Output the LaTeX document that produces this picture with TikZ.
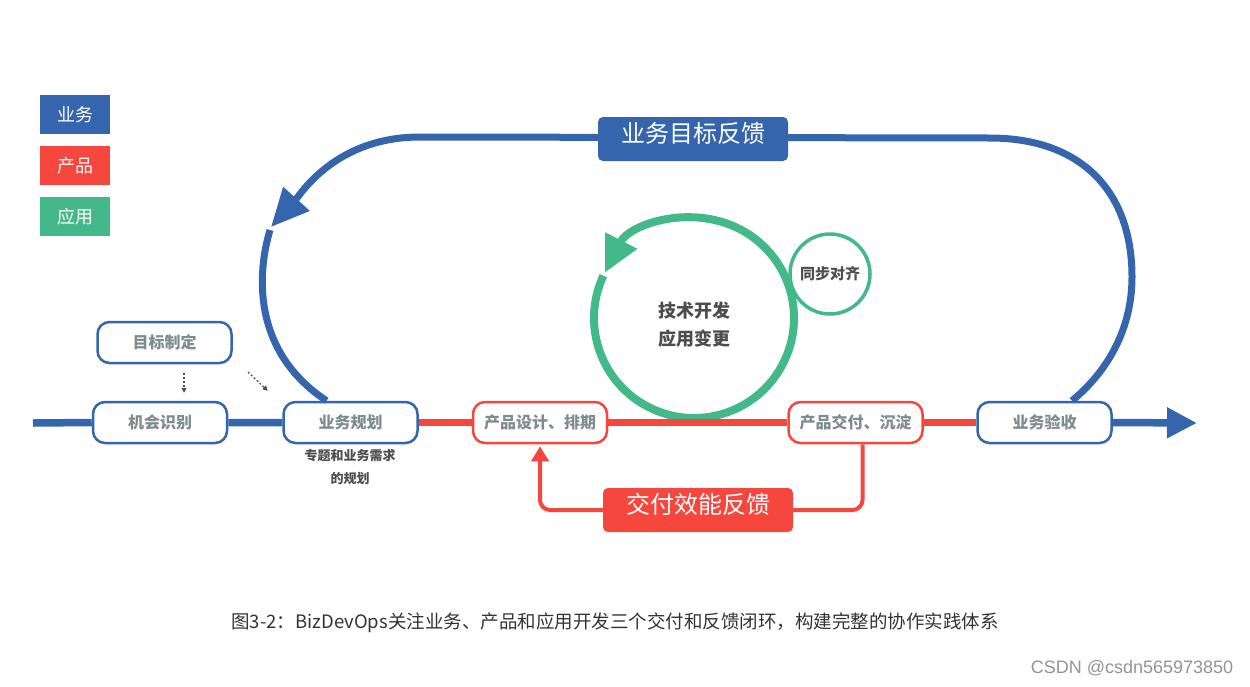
\documentclass[tikz,border=0pt]{standalone}
\usepackage{fontspec}
\setmainfont{Noto Sans CJK SC}
\newfontfamily\markfont{Liberation Sans}
\usepackage{tikz}
\usetikzlibrary{arrows.meta}
\definecolor{bizblue}{HTML}{3465AD}
\definecolor{prodred}{HTML}{F5473D}
\definecolor{appgreen}{HTML}{42B88B}
\definecolor{stagegray}{HTML}{7F8C8D}
\definecolor{darktext}{HTML}{4D4D4D}
\definecolor{captiongray}{HTML}{333333}

\begin{document}
\begin{tikzpicture}[
  x=1pt, y=1pt,
  line cap=butt,
  stagebox/.style={draw=#1, line width=2.5pt, fill=white, rounded corners=12pt,
    minimum width=134pt, minimum height=41pt, inner sep=0pt,
    font=\fontsize{16}{16}\selectfont\bfseries, text=stagegray},
  legendbox/.style={fill=#1, minimum width=70pt, minimum height=39pt, inner sep=0pt,
    font=\fontsize{18}{18}\selectfont, text=white},
  tagbox/.style={fill=#1, rounded corners=5pt, minimum width=190pt, minimum height=44pt,
    inner sep=0pt, text height=17pt, text depth=10pt,
    font=\fontsize{24}{24}\selectfont, text=white},
  mainline/.style={line width=7.5pt, draw=#1},
  loopline/.style={line width=7pt, draw=bizblue},
  fbline/.style={line width=4pt, draw=prodred, rounded corners=10pt},
  hint/.style={-{Triangle[length=5pt,width=5pt]}, line width=1.2pt, draw=darktext,
    dash pattern=on 2pt off 2pt},
  lbl/.style={text=darktext, align=center}
]
\useasboundingbox (0,0) rectangle (1250,-686);

%========== legend ==========
\node[legendbox=bizblue]  (legbiz)  at (75,-114.5) {业务};
\node[legendbox=prodred]  (legprod) at (75,-165.5) {产品};
\node[legendbox=appgreen] (legapp)  at (75,-216.5) {应用};

%========== stages on the main line ==========
\node[stagebox=bizblue] (goal)    at (164.5,-342.5) {目标制定};
\node[stagebox=bizblue] (chance)  at (160,-422.5)   {机会识别};
\node[stagebox=bizblue] (plan)    at (350.5,-422.5) {业务规划};
\node[stagebox=prodred] (design)  at (540,-422.5)   {产品设计、排期};
\node[stagebox=prodred] (deliver) at (855.5,-422.5) {产品交付、沉淀};
\node[stagebox=bizblue] (accept)  at (1044.5,-422.5) {业务验收};
\coordinate (start)  at (33,-423);
\coordinate (finish) at (1197,-423);

\node[lbl, font=\fontsize{13}{23}\selectfont\bfseries] (plannote) at (350,-467) {专题和业务需求\\的规划};

%========== application loop ==========
\coordinate (hub) at (694,-318);
\draw[appgreen, line width=8pt, -{Triangle[length=36pt,width=34pt]}]
  ([shift={(155:100)}]hub) arc[start angle=155, end angle=513, radius=100];
\node[lbl, font=\fontsize{18}{28}\selectfont\bfseries] (tech) at (694,-325) {技术开发\\应用变更};
\node[draw=appgreen, line width=3.5pt, circle, minimum size=80pt, inner sep=0pt,
  lbl, font=\fontsize{15}{15}\selectfont\bfseries] (sync) at (830,-274) {同步对齐};

%========== main line ==========
\draw[mainline=bizblue] (start) -- (chance.west) (chance.east) -- (plan.west);
\draw[mainline=prodred] (plan.east) -- (design.west) (design.east) -- (deliver.west)
  (deliver.east) -- (accept.west);
\draw[mainline=bizblue, -{Triangle[length=30pt,width=29pt]}] (accept.east) -- (finish);

% dotted hints
\coordinate (hinttail) at (248,-372);
\draw[hint] ([xshift=19.5pt,yshift=-9pt]goal.south) -- ([xshift=24pt,yshift=8pt]chance.north);
\draw[hint] (hinttail) -- ([xshift=-14.5pt,yshift=10pt]plan.north west);

%========== business feedback loop ==========
\draw[loopline, -{Triangle[length=38pt,width=34pt]}]
  ([xshift=27.5pt]accept.north) .. controls (1115,-365) and (1132,-320) .. (1132,-277)
  .. controls (1132,-190) and (1080,-138) .. (990,-138) -- (420,-137)
  .. controls (335,-137) and (300,-195) .. (271,-227);
\draw[loopline] (270,-230) .. controls (258,-270) and (250,-350) .. ([xshift=-24pt]plan.north);
\node[tagbox=bizblue] (bizfb) at (693,-139) {业务目标反馈};

%========== delivery feedback ==========
\node[tagbox=prodred] (deliveryfb) at (698,-510) {交付效能反馈};
\draw[fbline] ([xshift=7pt]deliver.south) |- (deliveryfb.east);
\draw[fbline, -{Triangle[length=15pt,width=17pt]}] (deliveryfb.west) -| ([yshift=-2pt]design.south);

%========== caption ==========
\node[text=captiongray, font=\fontsize{18.5}{18.5}\selectfont] (caption) at (615,-623)
  {图3-2：BizDevOps关注业务、产品和应用开发三个交付和反馈闭环，构建完整的协作实践体系};
\node[text=gray!85, font=\markfont\fontsize{18}{18}\selectfont] (mark) at (1132,-668) {CSDN @csdn565973850};
\end{tikzpicture}
\end{document}
